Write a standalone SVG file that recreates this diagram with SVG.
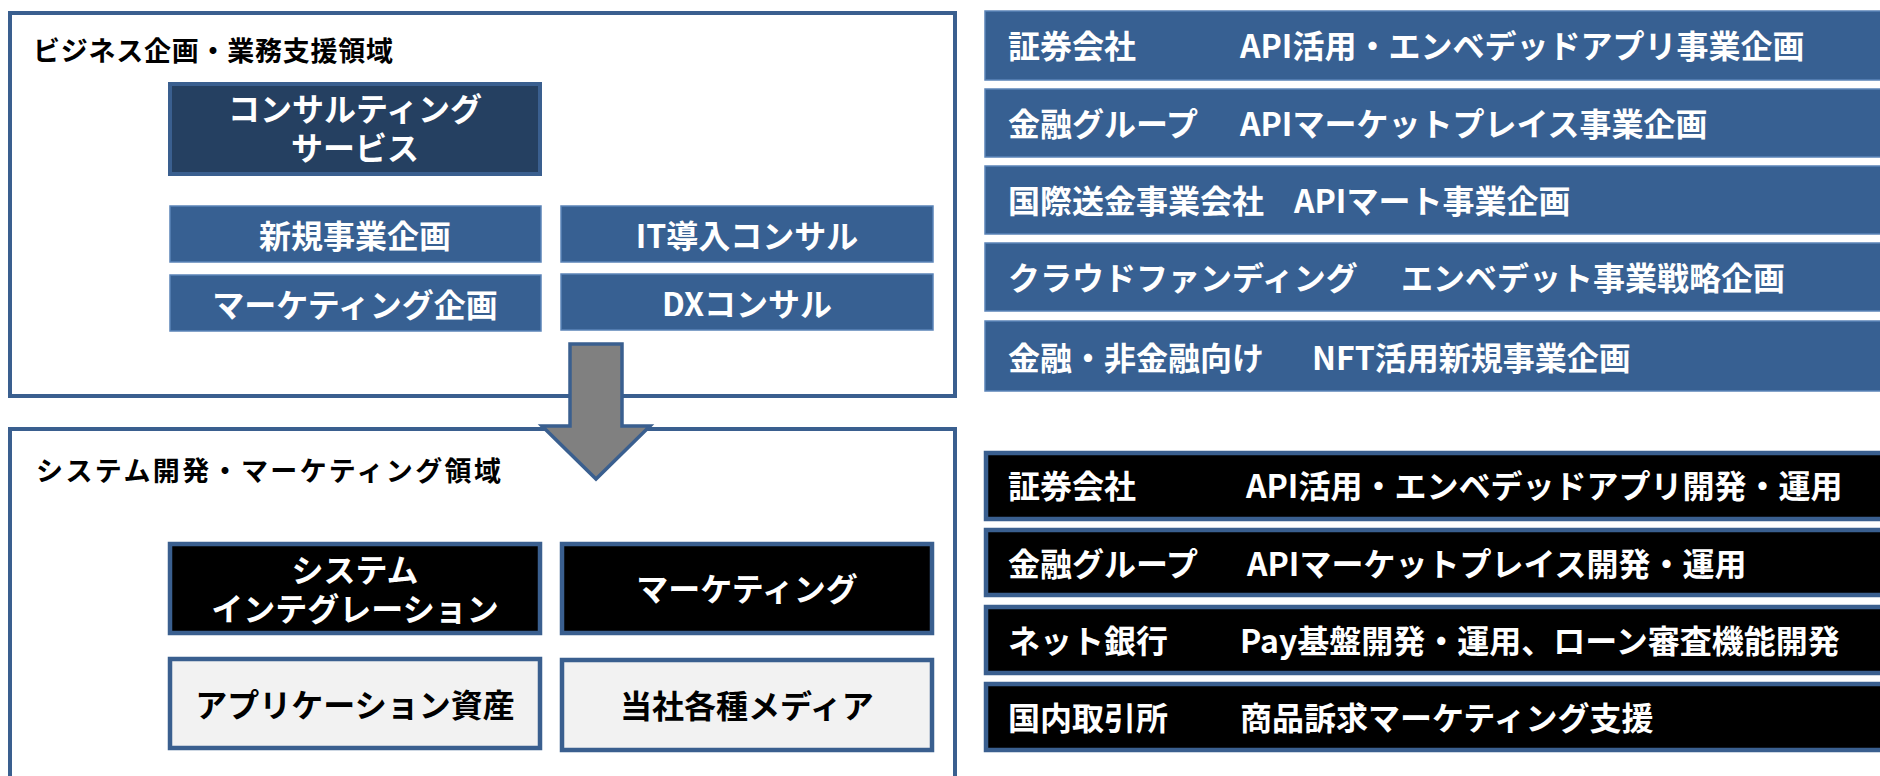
<svg xmlns="http://www.w3.org/2000/svg" width="1880" height="776" viewBox="0 0 1880 776">
<style>
text{font-family:"Noto Sans CJK JP","Noto Sans",sans-serif;font-weight:bold}
.ttl{font-size:27px;fill:#000}
.w{font-size:32px;fill:#fff;text-anchor:middle;dominant-baseline:central}
.k{font-size:32px;fill:#000;text-anchor:middle;dominant-baseline:central}
.r{font-size:32px;fill:#fff;dominant-baseline:central}
.frame{fill:#fff;stroke:#3A5F8F;stroke-width:4}
.blue{fill:#376092;stroke:#5B84B8;stroke-width:1.5}
.dark{fill:#254061;stroke:#3A5F8F;stroke-width:4}
.blk{fill:#000;stroke:#3A5F8F;stroke-width:4.5}
.lt{fill:#F2F2F2;stroke:#3A5F8F;stroke-width:4.5}
</style>
<rect width="1880" height="776" fill="#fff"/>
<g id="frame-business"><rect class="frame" x="10" y="13" width="945" height="383"/><text class="ttl" x="33" y="61" textLength="360">ビジネス企画・業務支援領域</text></g>
<g id="frame-system"><rect class="frame" x="10" y="429" width="945" height="360"/><text class="ttl" x="36" y="481" textLength="465">システム開発・マーケティング領域</text></g>
<g id="n-consulting"><rect class="dark" x="170" y="84" width="370" height="90"/><text class="w"><tspan x="355" y="107">コンサルティング</tspan><tspan x="355" y="146">サービス</tspan></text></g>
<g id="n-shinki"><rect class="blue" x="170" y="206" width="371" height="56"/><text class="w" x="355" y="234">新規事業企画</text></g>
<g id="n-it"><rect class="blue" x="561" y="206" width="372" height="56"/><text class="w" x="747" y="234">IT導入コンサル</text></g>
<g id="n-mkt-plan"><rect class="blue" x="170" y="275" width="371" height="56"/><text class="w" x="355" y="303">マーケティング企画</text></g>
<g id="n-dx"><rect class="blue" x="561" y="274" width="372" height="56"/><text class="w" x="747" y="302">DXコンサル</text></g>
<g id="connectors"><path d="M570,344 H622 V426 H650 L596,479 L542,426 H570 Z" fill="#808080" stroke="#3A5F8F" stroke-width="3.5"/></g>
<g id="n-si"><rect class="blk" x="170" y="544" width="370" height="89"/><text class="w"><tspan x="355" y="568">システム</tspan><tspan x="355" y="607">インテグレーション</tspan></text></g>
<g id="n-mkt"><rect class="blk" x="562" y="544" width="370" height="89"/><text class="w" x="747" y="587">マーケティング</text></g>
<g id="n-app"><rect class="lt" x="170" y="659" width="370" height="89"/><text class="k" x="355" y="703">アプリケーション資産</text></g>
<g id="n-media"><rect class="lt" x="562" y="660" width="370" height="90"/><text class="k" x="747" y="704">当社各種メディア</text></g>
<g id="r1"><rect class="blue" x="985" y="11" width="900" height="69"/><text class="r" y="44"><tspan x="1008">証券会社</tspan><tspan x="1240">API活用・エンベデッドアプリ事業企画</tspan></text></g>
<g id="r2"><rect class="blue" x="985" y="89" width="900" height="68"/><text class="r" y="122"><tspan x="1008">金融グループ</tspan><tspan x="1240">APIマーケットプレイス事業企画</tspan></text></g>
<g id="r3"><rect class="blue" x="985" y="166" width="900" height="68"/><text class="r" y="199"><tspan x="1008">国際送金事業会社</tspan><tspan x="1294">APIマート事業企画</tspan></text></g>
<g id="r4"><rect class="blue" x="985" y="243" width="900" height="68"/><text class="r" y="276"><tspan x="1008">クラウドファンディング</tspan><tspan x="1401">エンベデット事業戦略企画</tspan></text></g>
<g id="r5"><rect class="blue" x="985" y="321" width="900" height="70"/><text class="r" y="356"><tspan x="1008">金融・非金融向け</tspan><tspan x="1312">NFT活用新規事業企画</tspan></text></g>
<g id="b1"><rect class="blk" x="986" y="453" width="900" height="66"/><text class="r" y="484"><tspan x="1008">証券会社</tspan><tspan x="1246">API活用・エンベデッドアプリ開発・運用</tspan></text></g>
<g id="b2"><rect class="blk" x="986" y="530" width="900" height="65"/><text class="r" y="562"><tspan x="1008">金融グループ</tspan><tspan x="1247">APIマーケットプレイス開発・運用</tspan></text></g>
<g id="b3"><rect class="blk" x="986" y="607" width="900" height="66"/><text class="r" y="639"><tspan x="1008">ネット銀行</tspan><tspan x="1240">Pay基盤開発・運用、ローン審査機能開発</tspan></text></g>
<g id="b4"><rect class="blk" x="986" y="684" width="900" height="66"/><text class="r" y="716"><tspan x="1008">国内取引所</tspan><tspan x="1240">商品訴求マーケティング支援</tspan></text></g>
</svg>
